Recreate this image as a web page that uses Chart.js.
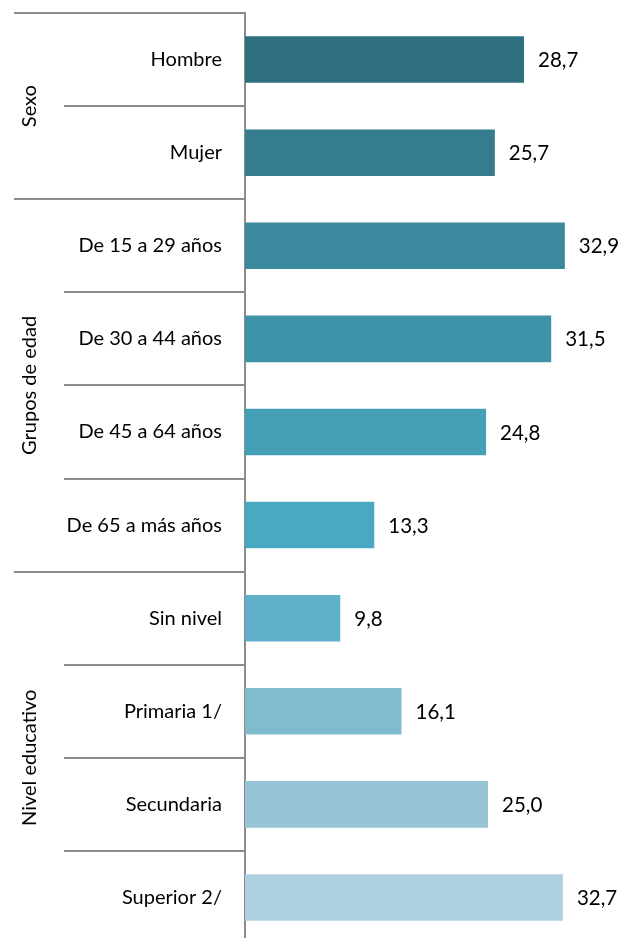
<!DOCTYPE html>
<html>
<head>
<meta charset="utf-8">
<script src="https://cdn.jsdelivr.net/npm/chart.js@4.4.1/dist/chart.umd.min.js"></script>
<style>
html,body{margin:0;padding:0;background:#fff;overflow:hidden;width:623px;height:938px;}
#wrap{position:relative;width:623px;height:950px;}
</style>
</head>
<body>
<div id="wrap"><canvas id="c"></canvas></div>
<script>
const categories = ["Hombre","Mujer","De 15 a 29 años","De 30 a 44 años","De 45 a 64 años","De 65 a más años","Sin nivel","Primaria 1/","Secundaria","Superior 2/"];
const values = [28.7,25.7,32.9,31.5,24.8,13.3,9.8,16.1,25.0,32.7];
const groupNames = ["Sexo","Grupos de edad","Nivel educativo"];
const groupSizes = [2,4,4];
const barColors = ["#2f7080","#357c8e","#3a899c","#3e93a9","#43a0b6","#49a9c3","#60b0ca","#80bbce","#98c5d5","#aecfdf"];

const FONT = "Lato, 'Open Sans', sans-serif";
const LINE = "#8c8c8c";

const groupPlugin = {
  id: 'groups',
  afterDraw(chart) {
    const ctx = chart.ctx;
    const y = chart.scales.y;
    const left = chart.chartArea.left;
    ctx.save();
    ctx.strokeStyle = LINE;
    ctx.lineWidth = 2;
    const starts = new Set();
    let acc = 0;
    groupSizes.forEach(s => { starts.add(acc); acc += s; });
    starts.add(acc);
    for (let i = 0; i <= categories.length; i++) {
      const py = Math.round(y.getPixelForValue(i - 0.5));
      const x0 = starts.has(i) ? 14 : 64;
      ctx.beginPath();
      ctx.moveTo(x0, py);
      ctx.lineTo(left, py);
      ctx.stroke();
    }
    ctx.fillStyle = "#000";
    ctx.font = "20px " + FONT;
    ctx.textAlign = "center";
    ctx.textBaseline = "middle";
    acc = 0;
    groupSizes.forEach((s, g) => {
      const top = y.getPixelForValue(acc - 0.5);
      const bot = y.getPixelForValue(acc + s - 0.5);
      ctx.save();
      ctx.translate(30, (top + bot) / 2);
      ctx.rotate(-Math.PI / 2);
      ctx.fillText(groupNames[g], 0, 0);
      ctx.restore();
      acc += s;
    });
    const meta = chart.getDatasetMeta(0);
    ctx.font = "20.5px " + FONT;
    ctx.textAlign = "left";
    meta.data.forEach((bar, i) => {
      ctx.fillText(values[i].toFixed(1).replace('.', ','), bar.x + 14, bar.y + 1);
    });
    ctx.restore();
  }
};

new Chart(document.getElementById('c'), {
  type: 'bar',
  data: {
    labels: categories,
    datasets: [{
      data: values,
      backgroundColor: barColors,
      borderWidth: 0,
      barPercentage: 0.5,
      categoryPercentage: 1.0
    }]
  },
  options: {
    indexAxis: 'y',
    responsive: true,
    maintainAspectRatio: false,
    animation: false,
    layout: { padding: { left: 0, right: 8.6, top: 13, bottom: 6 } },
    plugins: { legend: { display: false }, tooltip: { enabled: false } },
    scales: {
      x: {
        display: false,
        min: 0,
        max: 38
      },
      y: {
        afterFit(scale) {
          scale.width = 245;
          scale.paddingTop = 0;
          scale.paddingBottom = 0;
        },
        grid: { display: false, drawOnChartArea: false },
        border: { display: true, color: LINE, width: 2 },
        ticks: {
          padding: 15,
          color: "#000",
          font: { family: FONT, size: 20 }
        }
      }
    }
  },
  plugins: [groupPlugin]
});
</script>
</body>
</html>
